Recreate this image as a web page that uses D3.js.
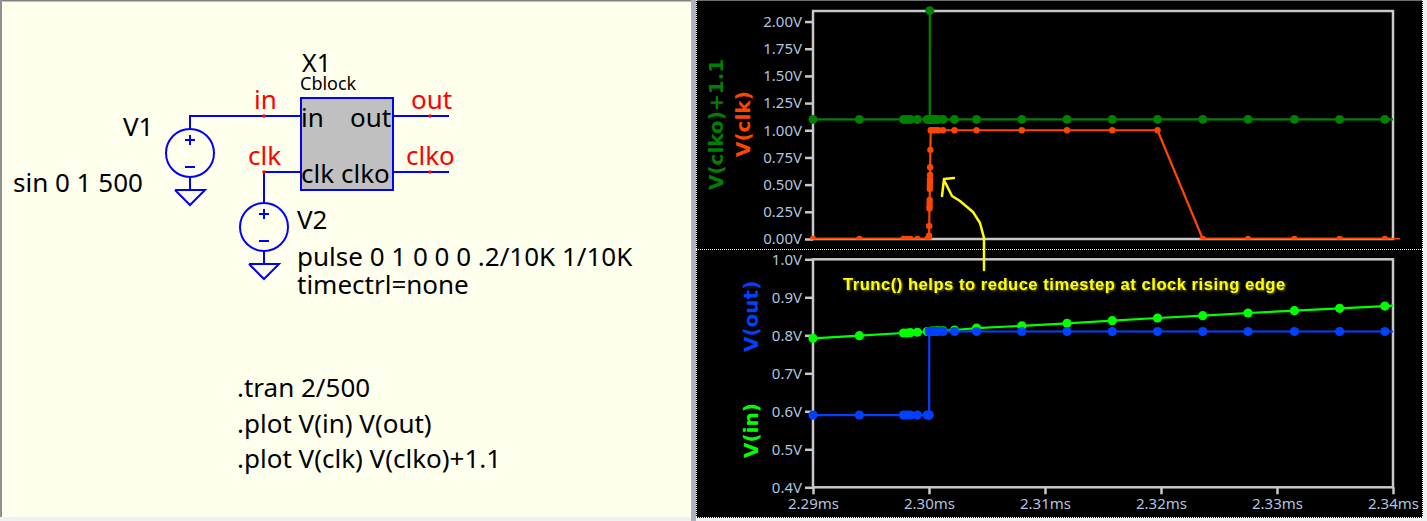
<!DOCTYPE html>
<html>
<head>
<meta charset="utf-8">
<script src="https://cdn.jsdelivr.net/npm/d3@7"></script>
<style>
html, body { margin: 0; padding: 0; background: #f0f0f0; overflow: hidden; }
svg { display: block; }
.sch { font-family: "Noto Sans", sans-serif; }
.axis text { font-family: "Noto Sans", sans-serif; font-size: 15px; fill: #b0c4de; }
.axis line { stroke: #c8c8c8; stroke-width: 2.5; }
.axis path { display: none; }
.vlabel { font-family: "DejaVu Sans", sans-serif; font-size: 20px; font-weight: bold; }
</style>
</head>
<body>
<svg width="1427" height="521"></svg>
<script>
// ---- data ----
var time = [2.2900, 2.2940, 2.2978, 2.2981, 2.2984, 2.2990, 2.29985,
  2.30000, 2.30001, 2.30002, 2.30004, 2.30005, 2.30005, 2.30006, 2.30007, 2.30007, 2.30008, 2.30008, 2.30009, 2.30010, 2.30012, 2.30015,
  2.3002, 2.3004, 2.3006, 2.3008, 2.3012, 2.3022, 2.3041, 2.3080,
  2.3119, 2.3158, 2.3197, 2.3236, 2.3275, 2.3315, 2.3354, 2.3393, 2.3432];

var vClk = [0, 0, 0, 0, 0, 0, 0,
  0, 0.03, 0.12, 0.28, 0.30, 0.33, 0.36, 0.46, 0.49, 0.52, 0.55, 0.59, 0.66, 0.82, 1,
  1, 1, 1, 1, 1, 1, 1, 1,
  1, 1, 1, 0, 0, 0, 0, 0, 0];

var vClko = [1.1, 1.1, 1.1, 1.1, 1.1, 1.1, 1.1,
  1.1, 1.1, 1.1, 1.1, 1.1, 1.1, 1.1, 2.1, 1.1, 1.1, 1.1, 1.1, 1.1, 1.1, 1.1,
  1.1, 1.1, 1.1, 1.1, 1.1, 1.1, 1.1, 1.1,
  1.1, 1.1, 1.1, 1.1, 1.1, 1.1, 1.1, 1.1, 1.1];

var vIn = [0.792, 0.799, 0.806, 0.806, 0.807, 0.808, 0.810,
  0.810, 0.810, 0.810, 0.810, 0.810, 0.810, 0.810, 0.810, 0.810, 0.810, 0.810, 0.810, 0.810, 0.810, 0.810,
  0.811, 0.811, 0.811, 0.812, 0.812, 0.814, 0.819, 0.825,
  0.8316, 0.8385, 0.8455, 0.8516, 0.8587, 0.8648, 0.871, 0.877, 0.883];

var vOut = [0.59, 0.59, 0.59, 0.59, 0.59, 0.59, 0.59,
  0.59, 0.59, 0.81, 0.81, 0.81, 0.81, 0.81, 0.81, 0.81, 0.81, 0.81, 0.81, 0.81, 0.81, 0.81,
  0.81, 0.81, 0.81, 0.81, 0.81, 0.81, 0.81, 0.81,
  0.81, 0.81, 0.81, 0.81, 0.81, 0.81, 0.81, 0.81, 0.81];

var timeTicks = [2.29, 2.30, 2.31, 2.32, 2.33, 2.34];
var upperTicks = [0, 0.25, 0.5, 0.75, 1, 1.25, 1.5, 1.75, 2];
var lowerTicks = [0.4, 0.5, 0.6, 0.7, 0.8, 0.9, 1.0];

var svg = d3.select("svg");

var frameColor = "#c8c8c8",
	wireColor = "#0000ff",
	labelRed = "#ff0000";

// window pieces
svg.append("rect").attr("x", 0).attr("y", 0).attr("width", 1427).attr("height", 521).attr("fill", "#f0f0f0");
svg.append("rect").attr("x", 2).attr("y", 1).attr("width", 689).attr("height", 516).attr("fill", "#ffffee");
svg.append("rect").attr("x", 0).attr("y", 0).attr("width", 692).attr("height", 1.5).attr("fill", "#808080");
svg.append("rect").attr("x", 0).attr("y", 0).attr("width", 2).attr("height", 517).attr("fill", "#909090");
svg.append("rect").attr("x", 691).attr("y", 0).attr("width", 5).attr("height", 521).attr("fill", "#a9b4be");
svg.append("rect").attr("x", 696).attr("y", 0).attr("width", 727).attr("height", 518).attr("fill", "#000");
svg.append("rect").attr("x", 696).attr("y", 0).attr("width", 727).attr("height", 1).attr("fill", "#707070");

function dotted(x1, y1, x2, y2) {
  svg.append("line").attr("x1", x1).attr("y1", y1).attr("x2", x2).attr("y2", y2)
    .attr("stroke", "#fff").attr("stroke-width", 1).attr("stroke-dasharray", "1,1");
}
dotted(696, 249.5, 1423, 249.5);
dotted(696.5, 0, 696.5, 518);
dotted(1422.5, 0, 1422.5, 518);
dotted(696, 517.5, 1423, 517.5);

// ---- plots ----
var x = d3.scaleLinear().domain([2.29, 2.34]).range([813, 1393]);
var yUpper = d3.scaleLinear().domain([0, 2.097]).range([239, 11]);
var yLower = d3.scaleLinear().domain([0.4, 1.0]).range([487.3, 259.3]);

var defs = svg.append("defs");
defs.append("clipPath").attr("id", "clipUpper").append("rect")
  .attr("x", 813).attr("y", 11).attr("width", 580).attr("height", 228);
defs.append("clipPath").attr("id", "clipLower").append("rect")
  .attr("x", 813).attr("y", 259).attr("width", 580).attr("height", 228);
defs.append("clipPath").attr("id", "clipRed").append("rect")
  .attr("x", 800).attr("y", 0).attr("width", 600).attr("height", 239.5);
var glow = defs.append("filter").attr("id", "glow").attr("x", "-5%").attr("y", "-30%").attr("width", "110%").attr("height", "160%");
glow.append("feDropShadow").attr("dx", 1).attr("dy", 1).attr("stdDeviation", 1).attr("flood-color", "#7a7a20");

function drawFrame(y, ticks, fmt) {
  var top = y.range()[1], bottom = y.range()[0];
  svg.append("rect")
    .attr("x", 813).attr("y", top).attr("width", 580).attr("height", bottom - top)
    .attr("fill", "none").attr("stroke", frameColor).attr("stroke-width", 2.5);
  svg.append("g").attr("class", "axis")
    .attr("transform", "translate(813,0)")
    .call(d3.axisLeft(y).tickValues(ticks).tickFormat(fmt).tickSize(8).tickPadding(3));
}

function drawSeries(values, y, color, r, clip, markerClip) {
  var idx = d3.range(time.length);
  var line = d3.line().x(function(i) { return x(time[i]); }).y(function(i) { return y(values[i]); });
  svg.append("path")
    .datum(idx)
    .attr("clip-path", "url(#" + clip + ")")
    .attr("fill", "none")
    .attr("stroke", color)
    .attr("stroke-width", 2.2)
    .attr("stroke-linejoin", "round")
    .attr("d", line);
  var dots = svg.append("g");
  if (markerClip) dots.attr("clip-path", "url(#" + markerClip + ")");
  dots.selectAll("circle")
    .data(idx.filter(function(i) { return time[i] <= 2.34; }))
    .enter().append("circle")
    .attr("cx", function(i) { return x(time[i]); })
    .attr("cy", function(i) { return y(values[i]); })
    .attr("r", r)
    .attr("fill", color);
}

drawFrame(yUpper, upperTicks, d3.format(".2f"));
svg.selectAll(".axis").filter(function() { return true; }).selectAll("text").text(function(d) { return d3.format(".2f")(d) + "V"; });
drawSeries(vClko, yUpper, "#008000", 4.5, "clipUpper");
drawSeries(vClk, yUpper, "#ff4500", 3.2, "clipRed", "clipRed");

drawFrame(yLower, lowerTicks, function(d) { return d3.format(".1f")(d) + "V"; });
drawSeries(vIn, yLower, "#00ff00", 4.6, "clipLower");
drawSeries(vOut, yLower, "#0040ff", 4.6, "clipLower");

svg.append("g").attr("class", "axis")
  .attr("transform", "translate(0,487.3)")
  .call(d3.axisBottom(x).tickValues(timeTicks).tickFormat(function(d) { return d3.format(".2f")(d) + "ms"; }).tickSize(7).tickPadding(4));

function vLabel(txt, px, py, color) {
  svg.append("text").attr("class", "vlabel")
    .attr("transform", "translate(" + px + "," + py + ") rotate(-90)")
    .attr("fill", color).text(txt);
}
vLabel("V(clko)+1.1", 723, 190, "#008000");
vLabel("V(clk)", 750, 157, "#ff4500");
vLabel("V(out)", 758, 352, "#0040ff");
vLabel("V(in)", 758, 458, "#00ff00");

// annotation
svg.append("path")
  .attr("d", "M984,270 L984,238 L980,223 L973,212 L960,201 L952,196 L944,180 M942,196 L944,179 L954,178")
  .attr("fill", "none").attr("stroke", "#ffff00").attr("stroke-width", 2.5)
  .attr("stroke-linecap", "round").attr("stroke-linejoin", "round");
svg.append("text")
  .attr("x", 843).attr("y", 289.5)
  .attr("font-family", "Liberation Sans").attr("font-weight", "bold").attr("font-size", 16.5)
  .attr("letter-spacing", 0.55)
  .attr("fill", "#ffff00").attr("filter", "url(#glow)")
  .text("Trunc() helps to reduce timestep at clock rising edge");

// ---- schematic ----
var sch = svg.append("g").attr("class", "sch");

function wire(points) {
  sch.append("path").attr("d", d3.line()(points))
    .attr("fill", "none").attr("stroke", wireColor).attr("stroke-width", 2);
}
function source(cx, cy) {
  sch.append("circle").attr("cx", cx).attr("cy", cy).attr("r", 24)
    .attr("fill", "none").attr("stroke", wireColor).attr("stroke-width", 2);
  wire([[cx - 5, cy - 13], [cx + 5, cy - 13]]);
  wire([[cx, cy - 18], [cx, cy - 8]]);
  wire([[cx - 5, cy + 14], [cx + 5, cy + 14]]);
  wire([[cx, cy + 24], [cx, cy + 37]]);
  wire([[cx - 15, cy + 37], [cx + 15, cy + 37], [cx, cy + 52], [cx - 15, cy + 37]]);
}
function label(txt, px, py, size, color) {
  sch.append("text").attr("x", px).attr("y", py).attr("font-size", size)
    .attr("fill", color || "#000").text(txt);
}

sch.append("rect").attr("x", 301).attr("y", 98).attr("width", 92).attr("height", 92)
  .attr("fill", "#c0c0c0").attr("stroke", wireColor).attr("stroke-width", 2);
wire([[190, 129], [190, 116], [301, 116]]);
wire([[264, 203], [264, 172], [301, 172]]);
wire([[393, 116], [449, 116]]);
wire([[393, 172], [449, 172]]);
source(190, 153);
source(264, 227);
[[264, 116], [430, 116], [430, 172], [264, 172]].forEach(function(p) {
  sch.append("circle").attr("cx", p[0]).attr("cy", p[1]).attr("r", 1.8).attr("fill", labelRed);
});

label("X1", 302, 72, 25);
label("Cblock", 300, 90, 18);
label("in", 254, 109, 26, labelRed);
label("out", 411, 109, 26, labelRed);
label("clk", 248, 165, 26, labelRed);
label("clko", 406, 165, 26, labelRed);
label("in", 301, 127, 26);
label("out", 350, 127, 26);
label("clk", 301, 183, 26);
label("clko", 341, 183, 26);
label("V1", 123, 136, 26);
label("sin 0 1 500", 13, 192, 26);
label("V2", 297, 229, 26);
label("pulse 0 1 0 0 0 .2/10K 1/10K", 297, 266, 26);
label("timectrl=none", 297, 294, 26);
label(".tran 2/500", 237, 397, 26);
label(".plot V(in) V(out)", 237, 433, 26);
label(".plot V(clk) V(clko)+1.1", 237, 468, 26);
</script>
</body>
</html>
